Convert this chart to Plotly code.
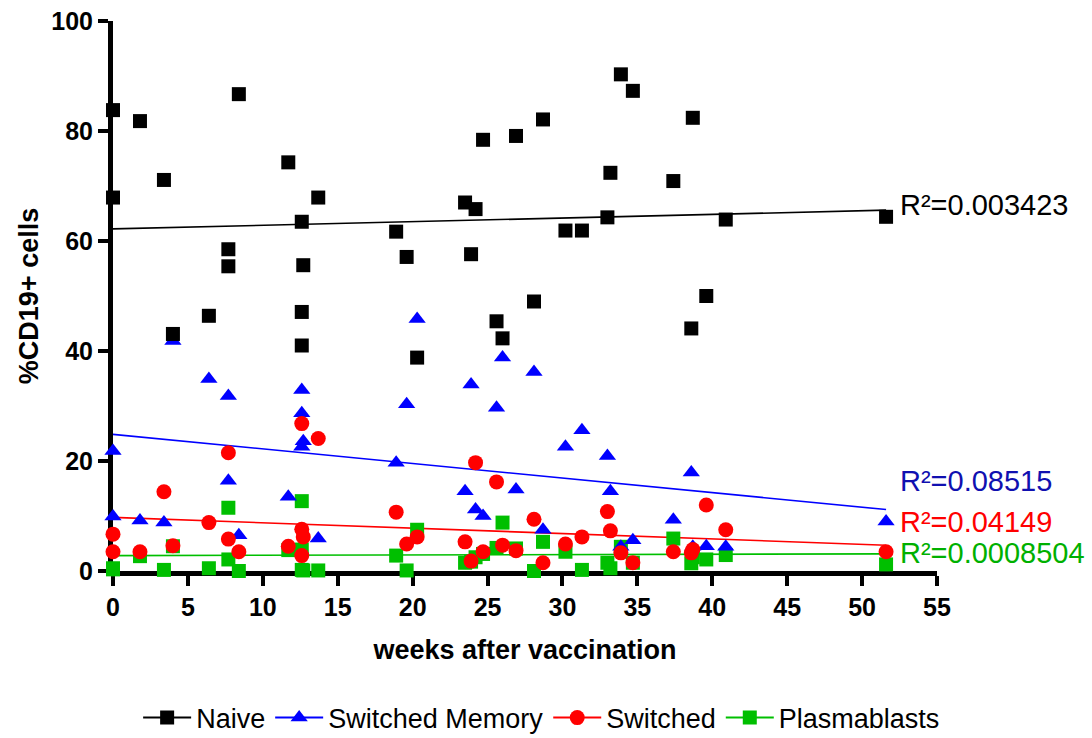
import plotly.graph_objects as go

# ---------------- data ----------------
weeks = [0.0, 0.0, 1.8, 3.4, 4.0, 6.4, 7.7, 7.7, 8.4, 11.7, 12.6, 12.6, 12.7, 12.6,
         13.7, 18.9, 19.6, 20.3, 23.5, 23.9, 24.2, 24.7, 25.6, 26.0, 26.9, 28.1,
         28.7, 30.2, 31.3, 33.0, 33.2, 33.9, 34.7, 37.4, 38.6, 38.7, 39.6, 40.9, 51.6]

naive_x = [0.0, 0.0, 1.8, 3.4, 4.0, 6.4, 7.7, 7.7, 8.4, 11.7, 12.6, 12.7, 12.6, 12.6,
           13.7, 18.9, 19.6, 20.3, 23.5, 24.2, 23.9, 24.7, 25.6, 26.0, 26.9, 28.1,
           28.7, 30.2, 31.3, 33.0, 33.2, 33.9, 34.7, 37.4, 38.6, 38.7, 39.6, 40.9, 51.6]
naive_y = [83.8, 67.9, 81.8, 71.1, 43.1, 46.4, 58.5, 55.4, 86.7, 74.3, 63.5, 55.6, 47.1, 41.0,
           67.9, 61.7, 57.1, 38.8, 67.0, 65.8, 57.6, 78.4, 45.4, 42.3, 79.1, 49.0,
           82.1, 61.9, 61.9, 64.3, 72.4, 90.3, 87.3, 70.9, 44.1, 82.4, 50.0, 63.9, 64.4]

memory_y = [21.8, 9.9, 9.2, 8.8, 41.8, 34.9, 31.8, 16.4, 6.5, 13.5, 32.9, 28.7, 23.6, 22.6,
            5.9, 19.7, 30.3, 45.8, 14.5, 33.9, 11.2, 10.0, 29.7, 38.8, 14.8, 36.2,
            7.5, 22.6, 25.6, 20.9, 14.5, 4.4, 5.6, 9.3, 17.9, 4.4, 4.5, 4.4, 9.0]

switched_y = [6.7, 3.5, 3.5, 14.4, 4.6, 8.8, 21.5, 5.8, 3.5, 4.5, 26.8, 7.6, 6.2, 2.8,
              24.1, 10.7, 4.9, 6.2, 5.3, 1.8, 19.7, 3.5, 16.2, 4.7, 3.7, 9.4,
              1.5, 4.9, 6.2, 10.8, 7.3, 3.3, 1.5, 3.5, 3.3, 3.9, 12.0, 7.5, 3.5]

plasma_y = [0.5, 0.3, 2.7, 0.2, 4.5, 0.5, 11.5, 2.1, 0.0, 3.8, 12.7, 3.9, 0.1, 0.2,
            0.1, 2.8, 0.1, 7.5, 1.5, 1.7, 2.5, 3.1, 4.2, 8.8, 4.1, 0.0,
            5.3, 3.5, 0.2, 1.5, 0.5, 4.4, 1.5, 5.9, 1.4, 2.5, 2.1, 2.9, 1.2]

# linear fits (intercept, slope), with R² labels
fit_naive = (62.2, 0.066)
fit_memory = (24.85, -0.265)
fit_switched = (9.75, -0.098)
fit_plasma = (2.8, 0.006)

r2_labels = ["R²=0.003423", "R²=0.08515", "R²=0.04149", "R²=0.0008504"]
r2_label_y = [66.5, 16.4, 9.0, 3.3]

series_names = ["Naive", "Switched Memory", "Switched", "Plasmablasts"]
series_colors = ["#000000", "#0000ff", "#ff0000", "#00bf00"]
text_colors = ["#000000", "#1010b0", "#ff0000", "#00b000"]
series_symbols = ["square", "triangle-up", "circle", "square"]
series_sizes = [14, 15, 15, 14]

x_ticks = [0, 5, 10, 15, 20, 25, 30, 35, 40, 45, 50, 55]
y_ticks = [0, 20, 40, 60, 80, 100]

# ---------------- figure ----------------
fig = go.Figure()

series = [
    (naive_x, naive_y, fit_naive),
    (weeks, memory_y, fit_memory),
    (weeks, switched_y, fit_switched),
    (weeks, plasma_y, fit_plasma),
]

# legend entries (line + marker)
for i, name in enumerate(series_names):
    fig.add_trace(go.Scatter(
        x=[None], y=[None], mode="lines+markers", name=name,
        line=dict(color=series_colors[i], width=2),
        marker=dict(symbol=series_symbols[i], size=series_sizes[i], color=series_colors[i]),
        showlegend=True,
    ))

# fit lines
for i, (xs, ys, (b0, b1)) in enumerate(series):
    x0, x1 = min(xs), max(xs)
    fig.add_trace(go.Scatter(
        x=[x0, x1], y=[b0 + b1 * x0, b0 + b1 * x1], mode="lines",
        line=dict(color=series_colors[i], width=1.6),
        showlegend=False, hoverinfo="skip", cliponaxis=False,
    ))

# markers: draw order bottom-to-top: Plasmablasts, Switched Memory, Switched, Naive
for i in [3, 1, 2, 0]:
    xs, ys, _ = series[i]
    fig.add_trace(go.Scatter(
        x=xs, y=ys, mode="markers", name=series_names[i],
        marker=dict(symbol=series_symbols[i], size=series_sizes[i],
                    color=series_colors[i], line=dict(width=0)),
        showlegend=False, cliponaxis=False,
    ))

# R² annotations
for i, txt in enumerate(r2_labels):
    fig.add_annotation(
        x=52.4, y=r2_label_y[i], xref="x", yref="y", text=txt, showarrow=False,
        xanchor="left", yanchor="middle",
        font=dict(family="Liberation Sans, Arial, sans-serif", size=29, color=text_colors[i]),
    )

axis_font = dict(family="Liberation Sans, Arial, sans-serif", size=25, color="black", weight="bold")
title_font = dict(family="Liberation Sans, Arial, sans-serif", size=27, color="black", weight="bold")

fig.update_layout(
    width=1092, height=738,
    margin=dict(l=113, r=155, t=21, b=167),
    paper_bgcolor="white", plot_bgcolor="white",
    font=dict(family="Liberation Sans, Arial, sans-serif", color="black"),
    showlegend=True,
    legend=dict(
        orientation="h", xref="container", yref="container",
        x=0.496, y=0.027, xanchor="center", yanchor="middle",
        font=dict(family="Liberation Sans, Arial, sans-serif", size=27, color="black"),
        itemwidth=48, traceorder="normal",
        bgcolor="rgba(0,0,0,0)",
    ),
    xaxis=dict(
        range=[0, 55], tickvals=x_ticks, ticktext=[str(v) for v in x_ticks],
        showgrid=False, zeroline=False,
        showline=True, linecolor="black", linewidth=5,
        ticks="outside", ticklen=10, tickwidth=4, tickcolor="black",
        tickfont=axis_font, layer="below traces", automargin=False,
        title=dict(text="weeks after vaccination", font=title_font, standoff=22),
    ),
    yaxis=dict(
        range=[0, 100], tickvals=y_ticks, ticktext=[str(v) for v in y_ticks],
        showgrid=False, zeroline=False,
        showline=True, linecolor="black", linewidth=5,
        ticks="outside", ticklen=10, tickwidth=4, tickcolor="black",
        tickfont=axis_font, layer="below traces", automargin=False,
        title=dict(text="%CD19+ cells", font=title_font, standoff=6),
    ),
)

fig.write_html(
    "out.html",
    config={"displayModeBar": False},
    post_script="document.body.style.margin='0';document.body.style.overflow='hidden';",
)
